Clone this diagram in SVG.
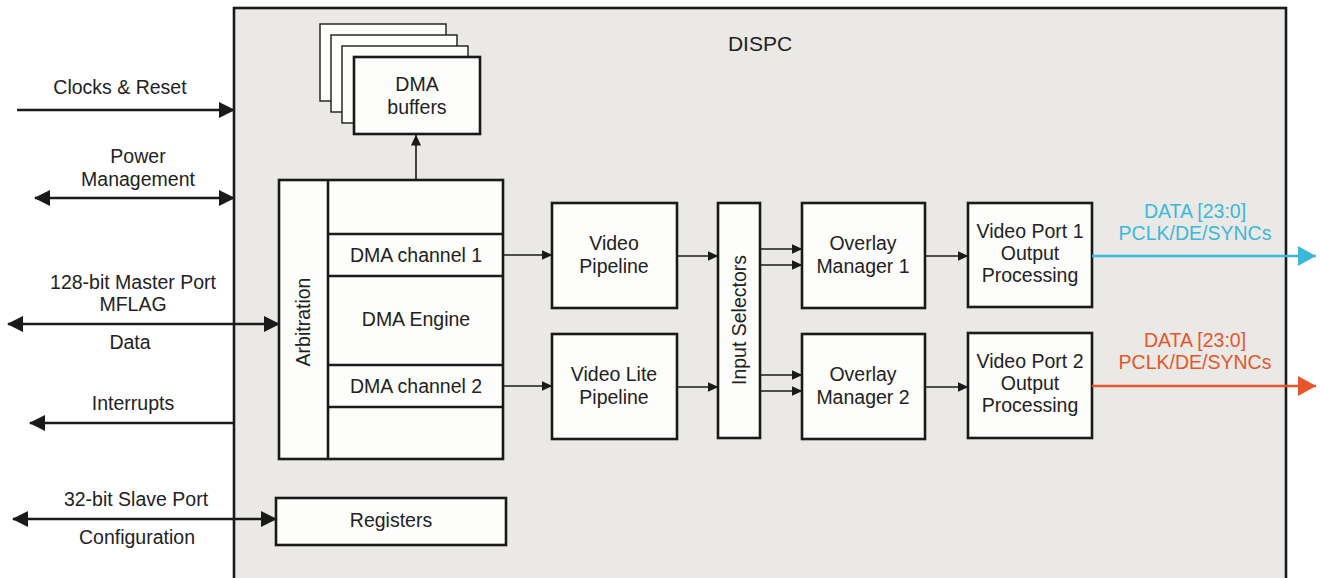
<svg xmlns="http://www.w3.org/2000/svg" width="1320" height="578" viewBox="0 0 1320 578">
  <defs>
    <style>
      .box { fill: #fdfdfb; stroke: #1a1a1a; stroke-width: 2.6; }
      .frame { fill: #ebe9e5; stroke: #1a1a1a; stroke-width: 2.6; }
      .t { font-family: "Liberation Sans", Arial, sans-serif; font-size: 19.5px; fill: #222; text-anchor: middle; }
      .ext { stroke: #1a1a1a; stroke-width: 2.6; fill: none; }
      .int { stroke: #1a1a1a; stroke-width: 1.6; fill: none; }
    </style>
    <marker id="bigHead" viewBox="0 0 16 16" refX="15" refY="8" markerWidth="16" markerHeight="16" markerUnits="userSpaceOnUse" orient="auto-start-reverse">
      <path d="M0,0 L16,8 L0,16 Z" fill="#1a1a1a"/>
    </marker>
    <marker id="smallHead" viewBox="0 0 11 10" refX="10.5" refY="5" markerWidth="11" markerHeight="10" markerUnits="userSpaceOnUse" orient="auto">
      <path d="M0,0 L11,5 L0,10 Z" fill="#1a1a1a"/>
    </marker>
    <marker id="cyanHead" viewBox="0 0 18 20" refX="18" refY="10" markerWidth="18" markerHeight="20" markerUnits="userSpaceOnUse" orient="auto">
      <path d="M0,0 L18,10 L0,20 Z" fill="#3bb8dc"/>
    </marker>
    <marker id="orangeHead" viewBox="0 0 18 20" refX="18" refY="10" markerWidth="18" markerHeight="20" markerUnits="userSpaceOnUse" orient="auto">
      <path d="M0,0 L18,10 L0,20 Z" fill="#e6562c"/>
    </marker>
  </defs>

  <rect width="1320" height="578" fill="#ffffff"/>

  <!-- DISPC enclosure -->
  <g id="dispc">
    <rect class="frame" x="234" y="8" width="1052" height="580"/>
    <text class="t" x="760" y="51" style="font-size:21px">DISPC</text>
  </g>

  <!-- DMA buffers (stacked pages) -->
  <g id="dma-buffers">
    <rect x="320" y="24" width="126" height="77" fill="#fdfdfb" stroke="#1a1a1a" stroke-width="1.4"/>
    <rect x="331" y="35" width="126" height="77" fill="#fdfdfb" stroke="#1a1a1a" stroke-width="1.4"/>
    <rect x="342" y="46" width="126" height="77" fill="#fdfdfb" stroke="#1a1a1a" stroke-width="1.4"/>
    <rect class="box" x="354" y="57" width="126" height="77"/>
    <text class="t" x="417" y="91">DMA</text>
    <text class="t" x="417" y="114">buffers</text>
  </g>

  <!-- DMA engine with arbitration column -->
  <g id="dma-engine">
    <rect class="box" x="279" y="180" width="224" height="279"/>
    <line class="ext" x1="328" y1="180" x2="328" y2="459"/>
    <line class="ext" x1="328" y1="234" x2="503" y2="234"/>
    <line class="ext" x1="328" y1="276" x2="503" y2="276"/>
    <line class="ext" x1="328" y1="365" x2="503" y2="365"/>
    <line class="ext" x1="328" y1="407" x2="503" y2="407"/>
    <text class="t" x="416" y="262">DMA channel 1</text>
    <text class="t" x="416" y="326">DMA Engine</text>
    <text class="t" x="416" y="393">DMA channel 2</text>
    <text class="t" transform="translate(310,322) rotate(-90)">Arbitration</text>
  </g>

  <g id="registers">
    <rect class="box" x="276" y="498" width="230" height="47"/>
    <text class="t" x="391" y="527">Registers</text>
  </g>

  <g id="video-pipeline">
    <rect class="box" x="552" y="203" width="125" height="105"/>
    <text class="t" x="614" y="250">Video</text>
    <text class="t" x="614" y="273">Pipeline</text>
  </g>

  <g id="video-lite-pipeline">
    <rect class="box" x="552" y="334" width="125" height="105"/>
    <text class="t" x="614" y="381">Video Lite</text>
    <text class="t" x="614" y="404">Pipeline</text>
  </g>

  <g id="input-selectors">
    <rect class="box" x="718" y="203" width="42" height="235"/>
    <text class="t" transform="translate(746,320) rotate(-90)">Input Selectors</text>
  </g>

  <g id="overlay-manager-1">
    <rect class="box" x="802" y="203" width="123" height="105"/>
    <text class="t" x="863" y="250">Overlay</text>
    <text class="t" x="863" y="273">Manager 1</text>
  </g>

  <g id="overlay-manager-2">
    <rect class="box" x="802" y="334" width="123" height="105"/>
    <text class="t" x="863" y="381">Overlay</text>
    <text class="t" x="863" y="404">Manager 2</text>
  </g>

  <g id="video-port-1">
    <rect class="box" x="968" y="203" width="124" height="104"/>
    <text class="t" x="1030" y="238">Video Port 1</text>
    <text class="t" x="1030" y="260">Output</text>
    <text class="t" x="1030" y="282">Processing</text>
  </g>

  <g id="video-port-2">
    <rect class="box" x="968" y="333" width="124" height="105"/>
    <text class="t" x="1030" y="368">Video Port 2</text>
    <text class="t" x="1030" y="390">Output</text>
    <text class="t" x="1030" y="412">Processing</text>
  </g>

  <!-- external interface labels -->
  <g id="interface-labels">
    <text class="t" x="120" y="94">Clocks &amp; Reset</text>
    <text class="t" x="138" y="163">Power</text>
    <text class="t" x="138" y="186">Management</text>
    <text class="t" x="133" y="289">128-bit Master Port</text>
    <text class="t" x="133" y="311">MFLAG</text>
    <text class="t" x="130" y="349">Data</text>
    <text class="t" x="133" y="410">Interrupts</text>
    <text class="t" x="136" y="506">32-bit Slave Port</text>
    <text class="t" x="137" y="544">Configuration</text>
    <text class="t" x="1195" y="218" fill="#3bb8dc" style="fill:#3bb8dc">DATA [23:0]</text>
    <text class="t" x="1195" y="240" style="fill:#3bb8dc">PCLK/DE/SYNCs</text>
    <text class="t" x="1195" y="347" style="fill:#e6562c">DATA [23:0]</text>
    <text class="t" x="1195" y="369" style="fill:#e6562c">PCLK/DE/SYNCs</text>
  </g>

  <!-- connectors -->
  <g id="connectors">
    <line class="ext" x1="17" y1="110" x2="234" y2="110" marker-end="url(#bigHead)"/>
    <line class="ext" x1="35" y1="198" x2="234" y2="198" marker-start="url(#bigHead)" marker-end="url(#bigHead)"/>
    <line class="ext" x1="8" y1="324" x2="279" y2="324" marker-start="url(#bigHead)" marker-end="url(#bigHead)"/>
    <line class="ext" x1="234" y1="423" x2="30" y2="423" marker-end="url(#bigHead)"/>
    <line class="ext" x1="13" y1="519" x2="276" y2="519" marker-start="url(#bigHead)" marker-end="url(#bigHead)"/>

    <line class="int" x1="416" y1="180" x2="416" y2="135" marker-end="url(#smallHead)"/>
    <line class="int" x1="503" y1="255" x2="552" y2="255" marker-end="url(#smallHead)"/>
    <line class="int" x1="503" y1="386" x2="552" y2="386" marker-end="url(#smallHead)"/>
    <line class="int" x1="677" y1="256" x2="718" y2="256" marker-end="url(#smallHead)"/>
    <line class="int" x1="677" y1="387" x2="718" y2="387" marker-end="url(#smallHead)"/>
    <line class="int" x1="760" y1="249" x2="802" y2="249" marker-end="url(#smallHead)"/>
    <line class="int" x1="760" y1="265" x2="802" y2="265" marker-end="url(#smallHead)"/>
    <line class="int" x1="760" y1="375" x2="802" y2="375" marker-end="url(#smallHead)"/>
    <line class="int" x1="760" y1="391" x2="802" y2="391" marker-end="url(#smallHead)"/>
    <line class="int" x1="925" y1="256" x2="968" y2="256" marker-end="url(#smallHead)"/>
    <line class="int" x1="925" y1="387" x2="968" y2="387" marker-end="url(#smallHead)"/>

    <line x1="1092" y1="256" x2="1316" y2="256" stroke="#3bb8dc" stroke-width="2.6" marker-end="url(#cyanHead)"/>
    <line x1="1092" y1="386" x2="1316" y2="386" stroke="#e6562c" stroke-width="2.6" marker-end="url(#orangeHead)"/>
  </g>
</svg>
